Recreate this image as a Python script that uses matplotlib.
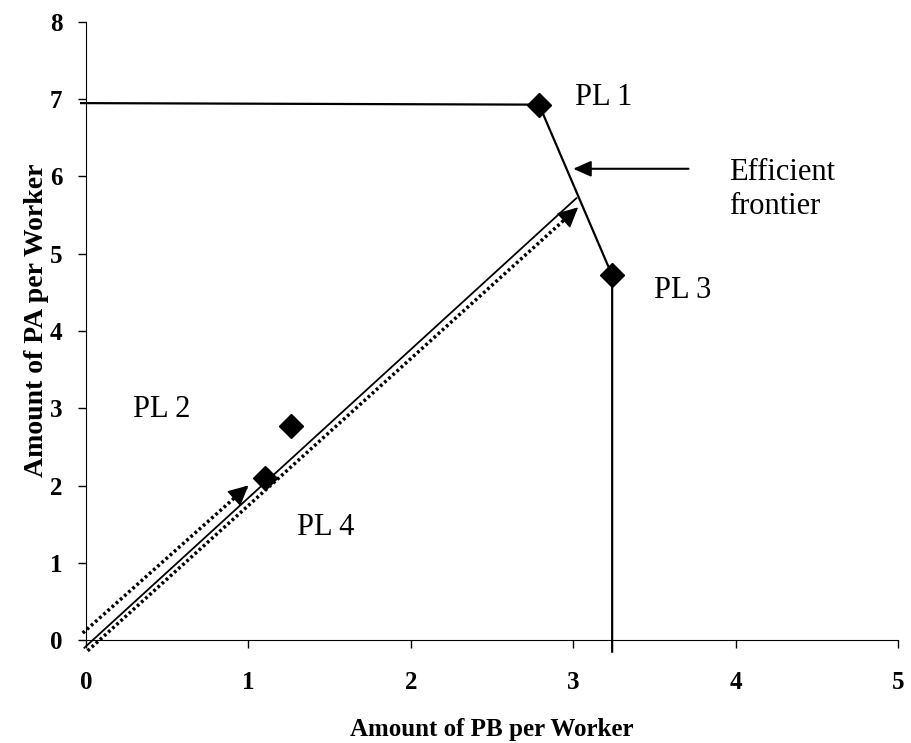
import math
import matplotlib.pyplot as plt

plt.rcParams['font.family'] = ['Liberation Serif', 'DejaVu Serif']

# puntos de las plantas
pl_x = [2.79, 1.26, 3.24, 1.10]
pl_y = [6.93, 2.77, 4.72, 2.10]
pl_names = ['PL 1', 'PL 2', 'PL 3', 'PL 4']
pl_text_x = [3.01, 0.29, 3.50, 1.30]
pl_text_y = [7.02, 2.98, 4.53, 1.46]

# frontera: horizontal -> PL1 -> PL3 -> vertical
front_x = [-0.03, 2.79, 3.24, 3.24]
front_y = [6.95, 6.93, 4.72, -0.15]

# rayo solido y flechas punteadas
ray_x = [-0.01, 3.02]
ray_y = [-0.10, 5.72]
dot_up_x = [-0.02, 1.00]
dot_up_y = [0.09, 2.00]
dot_lo_x = [0.01, 3.03]
dot_lo_y = [-0.14, 5.60]

xticks = [0, 1, 2, 3, 4, 5]
yticks = [0, 1, 2, 3, 4, 5, 6, 7, 8]

fig = plt.figure(figsize=(9.11, 7.43), dpi=100)
ax = fig.add_axes([0.0944, 0.1386, 0.8913, 0.8318])
ax.set_xlim(0, 5)
ax.set_ylim(0, 8)

ax.plot(front_x, front_y, color='black', linewidth=1.6, clip_on=False)
ax.plot(ray_x, ray_y, color='black', linewidth=1.3, clip_on=False)

ax.plot(dot_up_x, dot_up_y, color='black', linewidth=2.5, linestyle=(0, (0.8, 0.8)), clip_on=False)
ax.plot(dot_lo_x, dot_lo_y, color='black', linewidth=2.5, linestyle=(0, (0.8, 0.8)), clip_on=False)

# puntas de flecha (rellenas), direccion en pixeles
head = dict(arrowstyle='-|>,head_length=0.9,head_width=0.45', fc='black', ec='black', lw=1.0,
            shrinkA=0, shrinkB=0, mutation_scale=14)
for xs, ys in [(dot_up_x, dot_up_y), (dot_lo_x, dot_lo_y)]:
    p0 = ax.transData.transform((xs[0], ys[0]))
    p1 = ax.transData.transform((xs[1], ys[1]))
    ang = math.atan2(p1[1] - p0[1], p1[0] - p0[0])
    ax.annotate('', xy=(xs[1], ys[1]), xytext=(-13 * math.cos(ang), -13 * math.sin(ang)),
                textcoords='offset points', arrowprops=head)

ax.plot(pl_x, pl_y, linestyle='none', marker='D', markersize=12, color='black', clip_on=False)

for name, tx, ty in zip(pl_names, pl_text_x, pl_text_y):
    ax.text(tx, ty, name, fontsize=22, ha='left', va='center')

ax.text(3.96, 5.83, 'Efficient\nfrontier', fontsize=22, ha='left', va='center', linespacing=1.2)
ax.annotate('', xy=(3.0, 6.1), xytext=(3.71, 6.1),
            arrowprops=dict(arrowstyle='-|>,head_length=0.9,head_width=0.4', fc='black', ec='black',
                            lw=1.5, shrinkA=0, shrinkB=0, mutation_scale=12))

ax.set_xticks(xticks)
ax.set_yticks(yticks)
ax.tick_params(direction='out', length=6, width=1, labelsize=18)
ax.tick_params(axis='x', pad=16)
ax.tick_params(axis='y', pad=11)
for lab in ax.get_xticklabels() + ax.get_yticklabels():
    lab.set_fontweight('bold')

ax.spines['top'].set_visible(False)
ax.spines['right'].set_visible(False)

ax.set_xlabel('Amount of PB per Worker', fontsize=18, fontweight='bold')
ax.set_ylabel('Amount of PA per Worker', fontsize=20, fontweight='bold')
ax.xaxis.set_label_coords(0.5, -0.126)
ax.yaxis.set_label_coords(-0.045, 0.518)

fig.savefig('out.png', dpi=100)
